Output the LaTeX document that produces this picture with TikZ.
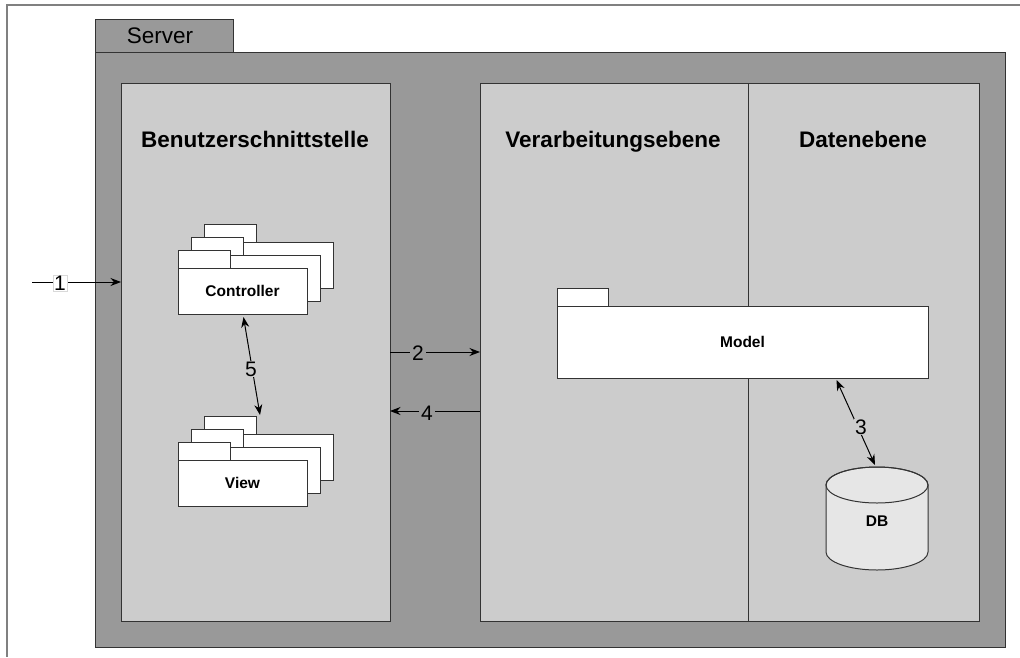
\documentclass[tikz,border=0pt]{standalone}
\usepackage{fontspec}
\setmainfont{Liberation Sans}
\usetikzlibrary{arrows.meta}
\definecolor{srvgray}{HTML}{999999}
\definecolor{pnlgray}{HTML}{CCCCCC}
\definecolor{dbgray}{HTML}{E6E6E6}
\definecolor{edgec}{HTML}{333333}
\definecolor{framec}{HTML}{808080}
\begin{document}
\begin{tikzpicture}[x=1pt,y=-1pt,
  box/.style={draw=edgec,line width=1pt,anchor=north west,inner sep=0pt,outer sep=0pt},
  pkgtab/.style={box,fill=white,minimum width=52pt,minimum height=18pt},
  pkgbody/.style={box,fill=white,minimum width=129pt,minimum height=46pt},
  lbl/.style={font=\fontsize{21}{24}\selectfont,inner sep=2pt},
  title/.style={font=\bfseries\fontsize{22.5}{26}\selectfont,anchor=base},
  small/.style={font=\bfseries\fontsize{15.5}{18}\selectfont},
  arr/.style={line width=1pt,-{Stealth[length=10.5pt,width=8pt]}},
  biarr/.style={line width=1pt,{Stealth[length=10.5pt,width=8pt]}-{Stealth[length=10.5pt,width=8pt]}}]

\useasboundingbox (0,0) rectangle (1020,657);
\fill[white] (0,0) rectangle (1020,657);
\draw[framec,line width=1.5pt] (1020,5) -- (7,5) -- (7,657);

% server package
\node[box,fill=srvgray,minimum width=138pt,minimum height=33pt] (srvtab) at (95,19) {};
\node[font=\fontsize{22.5}{26}\selectfont] (srvlabel) at (160,36) {Server};
\node[box,fill=srvgray,minimum width=910pt,minimum height=595pt] (server) at (95,52) {};

% panels
\node[box,fill=pnlgray,minimum width=269pt,minimum height=538pt] (ui) at (121,83) {};
\node[box,fill=pnlgray,minimum width=499pt,minimum height=538pt] (logic) at (480,83) {};
\draw[edgec,line width=1pt] (748,83) -- (748,621);

\node[title] (t1) at (255,147) {Benutzerschnittstelle};
\node[title] (t2) at (613,147) {Verarbeitungsebene};
\node[title] (t3) at (863,147) {Datenebene};

% controller stack
\node[pkgtab] (ctrlT2) at (204,224) {};
\node[pkgbody] (ctrlB2) at (204,242) {};
\node[pkgtab] (ctrlT1) at (191,237) {};
\node[pkgbody] (ctrlB1) at (191,255) {};
\node[pkgtab] (ctrlT0) at (178,250) {};
\node[pkgbody] (ctrl) at (178,268) {};
\node[small] (ctrllabel) at (ctrl.center) {Controller};

% view stack
\node[pkgtab] (viewT2) at (204,416) {};
\node[pkgbody] (viewB2) at (204,434) {};
\node[pkgtab] (viewT1) at (191,429) {};
\node[pkgbody] (viewB1) at (191,447) {};
\node[pkgtab] (viewT0) at (178,442) {};
\node[pkgbody] (view) at (178,460) {};
\node[small] (viewlabel) at (view.center) {View};

% model
\node[box,fill=white,minimum width=51pt,minimum height=18pt] (modelT) at (557,288) {};
\node[box,fill=white,minimum width=371pt,minimum height=72pt] (model) at (557,306) {};
\node[small] (modellabel) at (model.center) {Model};

% database
\path[draw=edgec,line width=1pt,fill=dbgray] (826,485) -- (826,552)
  arc[start angle=180,end angle=360,x radius=51pt,y radius=18pt] -- (928,485)
  arc[start angle=0,end angle=180,x radius=51pt,y radius=18pt] -- cycle;
\draw[edgec,line width=1pt] (877,485) ellipse[x radius=51pt,y radius=18pt];
\node[small] (db) at (877,521) {DB};
\coordinate (dbtop) at (875,465);

% connectors
\coordinate (in1) at (32,282);
\draw[arr] (in1) -- (ui.west |- in1);
\node[lbl,fill=white,draw=black!15,line width=0.4pt,inner sep=1pt] (n1) at (60,283) {1};

\coordinate (y2) at (0,352);
\draw[arr] (ui.east |- y2) -- (logic.west |- y2);
\node[lbl,fill=srvgray] (n2) at (418,353) {2};

\coordinate (y4) at (0,411);
\draw[arr] (logic.west |- y4) -- (ui.east |- y4);
\node[lbl,fill=srvgray] (n4) at (427,413) {4};

\draw[biarr] ([shift={(1,3)}]ctrl.south) -- ([shift={(4,-1)}]viewT2.north east);
\node[lbl,fill=pnlgray,inner sep=1pt] (n5) at (251,369) {5};

\draw[biarr] ([shift={(94,2)}]model.south) -- (dbtop);
\node[lbl,fill=pnlgray,inner sep=1pt] (n3) at (861,427) {3};
\end{tikzpicture}
\end{document}
